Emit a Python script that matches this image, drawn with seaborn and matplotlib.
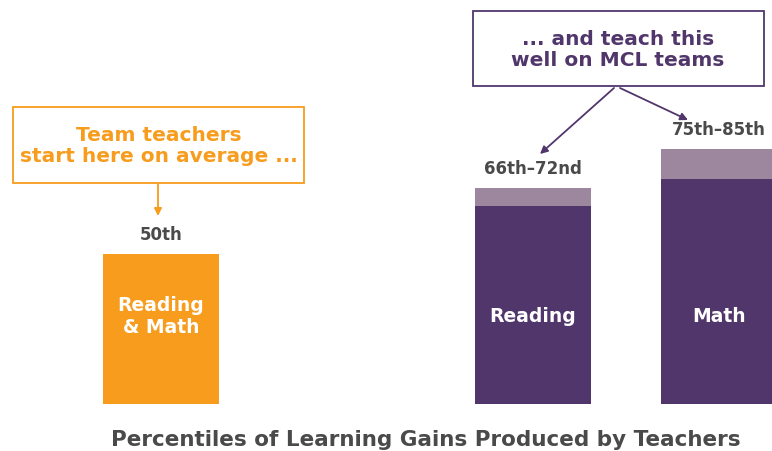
import matplotlib
matplotlib.use('Agg')
import matplotlib.pyplot as plt
from matplotlib.patches import Rectangle
import seaborn as sns

# data
positions = [0, 2, 3]
bar_labels = ['Reading\n& Math', 'Reading', 'Math']
low_values = [50, 66, 75]
high_values = [50, 72, 85]
range_labels = ['50th', '66th\u201372nd', '75th\u201385th']
title = 'Percentiles of Learning Gains Produced by Teachers'

orange = '#F79C1C'
dark_purple = '#51366B'
light_purple = '#9D879F'
gray = '#4A4A4A'

sns.set_theme(style='white')
plt.rcParams['font.family'] = ['DejaVu Sans']

W, H = 772, 452
fig = plt.figure(figsize=(W / 100, H / 100), dpi=100)
ax = fig.add_axes([0, 0, 1, 1])

# upper part (range top), then lower part drawn over it
sns.barplot(x=positions, y=high_values, native_scale=True, width=0.625,
            hue=positions, palette=[orange, light_purple, light_purple],
            legend=False, saturation=1, linewidth=0, ax=ax)
sns.barplot(x=positions, y=low_values, native_scale=True, width=0.625,
            hue=positions, palette=[orange, dark_purple, dark_purple],
            legend=False, saturation=1, linewidth=0, ax=ax)

ax.set_xlim(-161 / 186, (W - 161) / 186)
ax.set_ylim(-(H - 405) / 3, 405 / 3)
ax.axis('off')

for x, lab, top, rng in zip(positions, bar_labels, high_values, range_labels):
    ax.text(x, 29.5, lab, ha='center', va='center', color='white',
            fontsize=13.5, fontweight='bold', linespacing=1.25)
    ax.text(x, top + 6.5, rng, ha='center', va='center',
            color=gray, fontsize=12, fontweight='bold')


def fx(px):
    return px / W


def fy(py):
    return 1 - py / H


# orange callout
ax.add_patch(Rectangle((fx(13), fy(184)), fx(304) - fx(13), fy(108) - fy(184),
                       transform=ax.transAxes, fill=False, ec=orange, lw=1.3))
ax.text(fx(159), fy(146), 'Team teachers\nstart here on average ...',
        transform=ax.transAxes, ha='center', va='center', color=orange,
        fontsize=14.5, fontweight='bold', linespacing=1.15)
ax.annotate('', xy=(fx(158), fy(217)), xytext=(fx(158), fy(185)),
            xycoords='axes fraction', textcoords='axes fraction',
            arrowprops=dict(arrowstyle='-|>', color=orange, lw=1.3,
                            mutation_scale=11, shrinkA=0, shrinkB=0))

# purple callout
ax.add_patch(Rectangle((fx(473), fy(87)), fx(764) - fx(473), fy(12) - fy(87),
                       transform=ax.transAxes, fill=False, ec=dark_purple, lw=1.3))
ax.text(fx(618), fy(50), '... and teach this\nwell on MCL teams',
        transform=ax.transAxes, ha='center', va='center', color=dark_purple,
        fontsize=14.5, fontweight='bold', linespacing=1.15)
for tx, ty, hx, hy in [(614, 89, 540, 155), (620, 89, 688, 121)]:
    ax.annotate('', xy=(fx(hx), fy(hy)), xytext=(fx(tx), fy(ty)),
                xycoords='axes fraction', textcoords='axes fraction',
                arrowprops=dict(arrowstyle='-|>', color=dark_purple, lw=1.3,
                                mutation_scale=11, shrinkA=0, shrinkB=0))

ax.text(fx(426), fy(440), title, transform=ax.transAxes, ha='center',
        va='center', color=gray, fontsize=15.5, fontweight='bold')

fig.savefig('out.png', dpi=100)
